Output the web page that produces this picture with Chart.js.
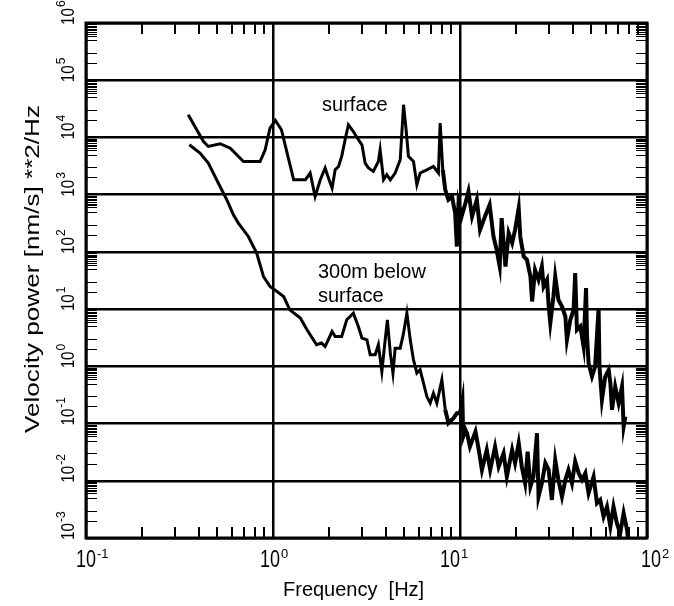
<!DOCTYPE html>
<html lang="en">
<head>
    <meta charset="UTF-8">
    <title>Velocity power spectra</title>
    <style>
        body { margin: 0; background: #fff; }
        canvas { display: block; }
    </style>
</head>

<body>
    <canvas id="myChart" width="674" height="606"></canvas>

    <script src="https://cdn.jsdelivr.net/npm/chart.js"></script>
    <script>
    "use strict"

    // Frequency [Hz] and power [(nm/s)^2/Hz]
    const surfaceFreq = [0.352, 0.425, 0.451, 0.521, 0.589, 0.695, 0.853, 0.908, 0.964, 1.03,
        1.11, 1.19, 1.29, 1.49, 1.58, 1.68, 1.79, 1.90, 1.98, 2.07,
        2.15, 2.24, 2.33, 2.43, 2.53, 2.69, 2.86, 2.99, 3.11, 3.24,
        3.44, 3.66, 3.74, 3.90, 4.06, 4.24, 4.50, 4.79, 4.99, 5.15,
        5.30, 5.64, 5.88, 6.12, 6.65, 7.21, 7.67, 7.83, 8.09, 8.34,
        8.67, 9.06, 9.42, 9.62, 9.82, 10.2, 10.7, 11.1, 11.6, 12.3,
        12.8, 13.6, 14.4, 15.1, 15.7, 16.3, 16.7, 17.5, 18.2, 19.0,
        19.7, 20.6, 21.0, 21.9, 22.8, 23.8, 24.3, 25.2, 26.3, 27.4,
        28.0, 29.2, 29.8, 30.4, 31.6, 32.3, 33.6, 35.1, 36.6, 37.3,
        38.9, 40.5, 41.3, 42.2, 44.0, 45.8, 47.2, 47.8, 48.7, 50.8,
        52.8, 55.1, 55.7, 57.4, 59.8, 62.4, 63.7, 65.0, 67.6, 70.5,
        73.5, 75.0, 76.6]
    const surfacePower = [24900, 8500, 6960, 7760, 6530, 3800, 3800, 6100, 14600, 19800,
        13600, 5340, 1820, 1820, 2390, 931, 1820, 2920, 1950, 1300,
        2720, 3110, 4660, 9120, 16700, 12700, 9120, 7450, 3560, 2920,
        2550, 3800, 6100, 1820, 2230, 1820, 2390, 4070, 37300, 13600,
        4660, 3800, 1490, 2390, 2720, 3110, 2390, 17900, 2720, 1220,
        815, 931, 477, 124, 713, 416, 713, 1140, 416, 815,
        243, 416, 666, 186, 109, 55.6, 390, 55.6, 213, 143,
        243, 583, 186, 83.2, 72.8, 37.2, 13.6, 48.6, 32.5, 55.6,
        24.8, 32.5, 11.1, 5.69, 16.6, 37.2, 14.5, 11.1, 7.43, 2.90,
        6.50, 9.72, 42.6, 4.35, 4.97, 2.22, 23.3, 3.32, 1.14, 0.664,
        0.993, 10.4, 0.993, 0.259, 0.664, 0.869, 0.508, 0.174, 0.444, 0.228,
        0.444, 0.0887, 0.132]

    const belowFreq = [0.357, 0.407, 0.451, 0.521, 0.566, 0.614, 0.653, 0.738, 0.818, 0.889,
        0.964, 1.05, 1.14, 1.23, 1.40, 1.52, 1.71, 1.82, 1.90, 2.07,
        2.15, 2.33, 2.48, 2.69, 2.86, 2.99, 3.18, 3.31, 3.52, 3.66,
        3.82, 3.98, 4.09, 4.24, 4.38, 4.50, 4.79, 4.99, 5.20, 5.42,
        5.64, 5.88, 6.12, 6.38, 6.65, 6.93, 7.21, 7.52, 8.00, 8.34,
        8.67, 9.23, 9.62, 10.0, 10.3, 10.4, 10.7, 10.9, 11.3, 12.1,
        12.6, 13.1, 13.9, 14.5, 15.4, 16.1, 17.1, 17.8, 19.0, 19.7,
        20.6, 21.4, 22.3, 23.0, 23.8, 24.7, 25.8, 26.3, 27.4, 28.6,
        29.8, 31.0, 32.3, 33.6, 35.1, 36.6, 38.0, 39.7, 41.3, 43.1,
        44.9, 46.8, 48.7, 51.8, 54.0, 56.2, 58.6, 61.1, 63.7, 66.2,
        69.0, 71.9, 75.0, 78.2, 79.4]
    const belowPower = [7450, 5340, 3560, 1390, 815, 445, 318, 186, 95.3, 37.2,
        24.8, 20.3, 16.6, 9.72, 6.96, 4.35, 2.38, 2.55, 2.22, 4.06,
        3.32, 3.32, 6.50, 8.51, 4.97, 3.11, 2.90, 1.59, 1.59, 2.38,
        0.811, 2.90, 6.50, 1.70, 0.760, 2.08, 2.08, 3.80, 8.51, 2.90,
        1.30, 0.760, 0.869, 0.508, 0.296, 0.228, 0.340, 0.228, 0.581, 0.174,
        0.102, 0.124, 0.152, 0.152, 0.259, 0.0593, 0.0776, 0.0679, 0.0396, 0.0724,
        0.0347, 0.0155, 0.0347, 0.0155, 0.0396, 0.0177, 0.0304, 0.0118, 0.0347, 0.0203,
        0.0454, 0.0177, 0.00908, 0.0324, 0.00792, 0.0118, 0.0679, 0.0053, 0.00908, 0.0203,
        0.0155, 0.00463, 0.0232, 0.0104, 0.0053, 0.0104, 0.0155, 0.00908, 0.0217, 0.0136,
        0.0104, 0.0136, 0.00607, 0.0118, 0.00406, 0.00463, 0.00237, 0.00354, 0.00158, 0.00354,
        0.00182, 0.00121, 0.00272, 0.00139, 0.0009]

    // axis decades and their exponent labels
    const freqTicks = [0.1, 1, 10, 100]
    const freqExp = ["-1", "0", "1", "2"]
    const powerTicks = [1e-3, 1e-2, 1e-1, 1, 10, 100, 1e3, 1e4, 1e5, 1e6]
    const powerExp = ["-3", "-2", "-1", "0", "1", "2", "3", "4", "5", "6"]

    // curve labels, placed in data coordinates
    const curveLabels = [
        { text: "surface", f: 1.83, p: 3.6e4 },
        { text: "300m below", f: 1.74, p: 43 },
        { text: "surface", f: 1.74, p: 16.4 }
    ]

    const FONT = '"Liberation Sans", Arial, sans-serif'

    function toPoints(fs, ps){
        return fs.map((f, i) => ({ x: f, y: ps[i] }))
    }

    // the noisy high-frequency part of both traces looks heavier
    function segWidth(c){
        return c.p0.parsed.x > 8 ? 4 : 3
    }

    // inward minor ticks, frame and all the text
    const decor = {
        id: "decor",
        afterDraw(chart){
            const ctx = chart.ctx
            const a = chart.chartArea
            const xs = chart.scales.x
            const ys = chart.scales.y
            ctx.save()
            ctx.strokeStyle = "#000"
            ctx.fillStyle = "#000"

            // x minor ticks, bottom and top
            ctx.lineWidth = 2
            ctx.beginPath()
            for(let d = 0.1; d < 100; d *= 10){
                for(let k = 2; k <= 9; k++){
                    const px = Math.round(xs.getPixelForValue(k * d))
                    ctx.moveTo(px, a.bottom); ctx.lineTo(px, a.bottom - 11)
                    ctx.moveTo(px, a.top); ctx.lineTo(px, a.top + 11)
                }
            }
            ctx.stroke()

            // y minor ticks, left and right
            ctx.lineWidth = 1
            ctx.beginPath()
            const ySteps = [2, 3, 5, 6, 6.5, 7, 7.5, 8, 8.5, 9, 9.5]
            for(let d = 1e-3; d < 1e6; d *= 10){
                for(const k of ySteps){
                    const py = Math.round(ys.getPixelForValue(k * d)) + 0.5
                    ctx.moveTo(a.left, py); ctx.lineTo(a.left + 11, py)
                    ctx.moveTo(a.right, py); ctx.lineTo(a.right - 11, py)
                }
            }
            ctx.stroke()

            // frame
            ctx.lineWidth = 3
            ctx.strokeRect(a.left, a.top, a.right - a.left, a.bottom - a.top)

            // x tick labels: 10 with superscript
            const xShift = [0, -3, -10, 4]
            freqTicks.forEach((v, i) => {
                const px = xs.getPixelForValue(v) + xShift[i]
                ctx.font = "18px " + FONT
                const w = ctx.measureText("10").width
                ctx.save()
                ctx.translate(px, 567)
                ctx.scale(1, 1.35)
                ctx.textAlign = "center"
                ctx.fillText("10", 0, 0)
                ctx.restore()
                ctx.font = "13px " + FONT
                ctx.textAlign = "left"
                ctx.fillText(freqExp[i], px + w / 2 + 1, 558)
            })

            // y tick labels, rotated
            powerTicks.forEach((v, i) => {
                const py = ys.getPixelForValue(v)
                ctx.save()
                ctx.translate(74, py + 2)
                ctx.rotate(-Math.PI / 2)
                ctx.textAlign = "left"
                ctx.save()
                ctx.scale(0.95, 1.2)
                ctx.font = "16px " + FONT
                ctx.fillText("10", 0, 0)
                const w = ctx.measureText("10").width * 0.95
                ctx.restore()
                ctx.font = "12px " + FONT
                ctx.fillText(powerExp[i], w + 1, -9)
                ctx.restore()
            })

            // axis titles
            ctx.font = "20px " + FONT
            ctx.textAlign = "left"
            ctx.fillText("Frequency  [Hz]", 283, 596)

            const title = "Velocity power [nm/s] **2/Hz"
            ctx.save()
            ctx.translate(39, 433)
            ctx.rotate(-Math.PI / 2)
            ctx.font = "20px " + FONT
            const tw = ctx.measureText(title).width
            ctx.scale(328 / tw, 1)
            ctx.fillText(title, 0, 0)
            ctx.restore()

            // curve labels
            ctx.font = "20px " + FONT
            ctx.textAlign = "left"
            ctx.textBaseline = "middle"
            curveLabels.forEach(l => {
                ctx.fillText(l.text, xs.getPixelForValue(l.f), ys.getPixelForValue(l.p))
            })
            ctx.restore()
        }
    }

    const ctx = document.getElementById("myChart")

    let graph = new Chart(ctx, {
        type: "scatter",
        data: {
            datasets: [
                {
                    label: "surface",
                    data: toPoints(surfaceFreq, surfacePower),
                    showLine: true,
                    borderColor: "#000",
                    borderWidth: 3,
                    segment: { borderWidth: segWidth },
                    pointRadius: 0,
                    tension: 0
                },
                {
                    label: "300m below surface",
                    data: toPoints(belowFreq, belowPower),
                    showLine: true,
                    borderColor: "#000",
                    borderWidth: 3,
                    segment: { borderWidth: segWidth },
                    pointRadius: 0,
                    tension: 0
                }
            ]
        },
        options: {
            responsive: false,
            animation: false,
            events: [],
            layout: { padding: { top: 23, right: 27, left: 0, bottom: 0 } },
            plugins: {
                legend: { display: false },
                tooltip: { enabled: false }
            },
            scales: {
                x: {
                    type: "logarithmic",
                    min: 0.1,
                    max: 100,
                    afterBuildTicks: s => { s.ticks = freqTicks.map(v => ({ value: v })) },
                    afterFit: s => { s.height = 68 },
                    ticks: { display: false },
                    grid: { color: "#000", lineWidth: 2.5, drawTicks: false },
                    border: { display: false }
                },
                y: {
                    type: "logarithmic",
                    min: 1e-3,
                    max: 1e6,
                    afterBuildTicks: s => { s.ticks = powerTicks.map(v => ({ value: v })) },
                    afterFit: s => { s.width = 86 },
                    ticks: { display: false },
                    grid: { color: "#000", lineWidth: 2.5, drawTicks: false },
                    border: { display: false }
                }
            }
        },
        plugins: [decor]
    })
    </script>
</body>
</html>
